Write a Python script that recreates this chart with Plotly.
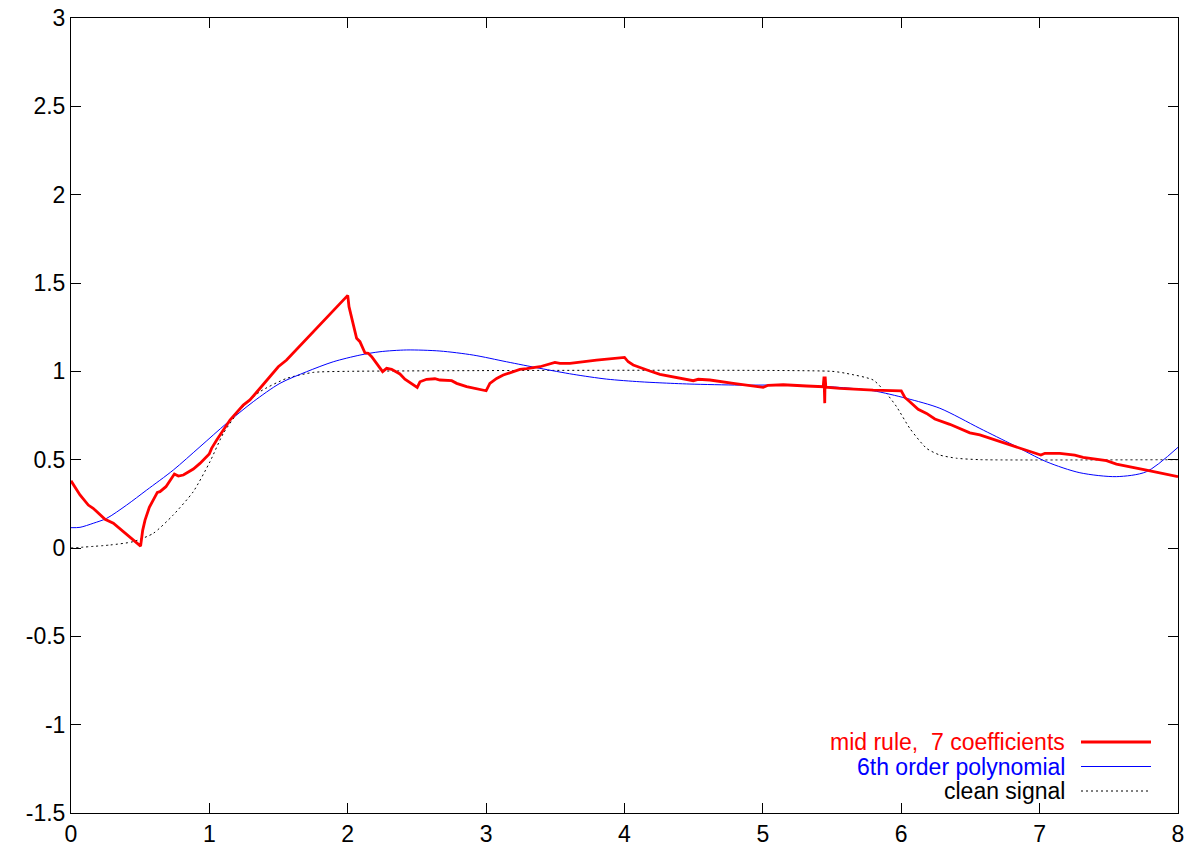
import plotly.graph_objects as go

# ---- data ----
red_x = [0.0, 0.065, 0.125, 0.16, 0.246, 0.306, 0.503, 0.518, 0.535, 0.566, 0.624, 0.643, 0.686,
         0.747, 0.776, 0.812, 0.884, 0.932, 0.999, 1.016, 1.053, 1.101, 1.149, 1.245, 1.293, 1.366,
         1.498, 1.558, 2.0, 2.009, 2.04, 2.064, 2.088, 2.124, 2.148, 2.173, 2.252, 2.281, 2.317,
         2.377, 2.413, 2.502, 2.522, 2.57, 2.63, 2.666, 2.751, 2.787, 2.859, 3.0, 3.027, 3.076,
         3.124, 3.172, 3.244, 3.293, 3.389, 3.497, 3.533, 3.606, 3.678, 3.798, 4.0, 4.027, 4.063,
         4.124, 4.183, 4.256, 4.328, 4.424, 4.497, 4.533, 4.617, 4.786, 4.93, 5.002, 5.038, 5.147,
         5.316, 5.436, 5.442, 5.447, 5.45, 5.455, 5.556, 5.797, 6.0, 6.026, 6.062, 6.122, 6.183,
         6.243, 6.351, 6.496, 6.568, 6.761, 6.881, 7.009, 7.038, 7.146, 7.254, 7.314, 7.483, 7.555,
         7.772, 8.0]
red_y = [0.38, 0.30, 0.243, 0.225, 0.162, 0.14, 0.011, 0.10, 0.158, 0.23, 0.315, 0.319, 0.347,
         0.419, 0.407, 0.413, 0.447, 0.479, 0.532, 0.564, 0.611, 0.668, 0.724, 0.809, 0.838, 0.904,
         1.026, 1.064, 1.43, 1.366, 1.262, 1.187, 1.168, 1.105, 1.102, 1.083, 0.998, 1.017, 1.011,
         0.985, 0.955, 0.909, 0.941, 0.955, 0.958, 0.951, 0.947, 0.932, 0.913, 0.89, 0.932, 0.96,
         0.979, 0.992, 1.011, 1.015, 1.026, 1.051, 1.045, 1.045, 1.053, 1.064, 1.079, 1.054, 1.036,
         1.017, 1.002, 0.983, 0.973, 0.96, 0.947, 0.955, 0.951, 0.932, 0.917, 0.909, 0.921, 0.924,
         0.917, 0.913, 0.97, 0.82, 0.97, 0.91, 0.904, 0.894, 0.89, 0.852, 0.828, 0.785, 0.762,
         0.730, 0.700, 0.652, 0.640, 0.592, 0.559, 0.526, 0.536, 0.536, 0.526, 0.513, 0.494, 0.475,
         0.441, 0.404]

blue_x = [0.0, 0.065, 0.161, 0.258, 0.402, 0.547, 0.739, 0.932, 1.125, 1.317, 1.51, 1.703, 1.895,
          2.088, 2.233, 2.426, 2.666, 2.907, 3.148, 3.389, 3.629, 3.871, 4.111, 4.256, 4.473,
          4.834, 5.195, 5.556, 5.797, 6.038, 6.279, 6.568, 6.809, 7.05, 7.291, 7.555, 7.772, 8.0]
blue_y = [0.115, 0.117, 0.14, 0.168, 0.243, 0.328, 0.441, 0.573, 0.706, 0.828, 0.932, 0.998, 1.054,
          1.092, 1.111, 1.121, 1.115, 1.092, 1.054, 1.017, 0.983, 0.956, 0.941, 0.935, 0.928,
          0.922, 0.922, 0.909, 0.890, 0.847, 0.791, 0.677, 0.583, 0.488, 0.426, 0.404, 0.432, 0.570]

clean_x = [0.0, 0.282, 0.45, 0.595, 0.739, 0.884, 1.004, 1.101, 1.221, 1.366, 1.558, 1.751, 2.0,
           5.5, 5.605, 5.797, 5.893, 5.966, 6.062, 6.183, 6.279, 6.4, 6.57, 8.0]
clean_y = [0.0, 0.017, 0.036, 0.083, 0.187, 0.319, 0.488, 0.649, 0.781, 0.885, 0.960, 0.994, 1.0,
           1.0, 0.988, 0.951, 0.875, 0.800, 0.677, 0.564, 0.526, 0.508, 0.5, 0.5]

legend_labels = ["mid rule,&nbsp; 7 coefficients", "6th order polynomial", "clean signal"]
legend_colors = ["#ff0000", "#0000ff", "#000000"]

x_ticks = [0, 1, 2, 3, 4, 5, 6, 7, 8]
y_ticks = [-1.5, -1, -0.5, 0, 0.5, 1, 1.5, 2, 2.5, 3]
y_tick_text = ["-1.5", "-1", "-0.5", "0", "0.5", "1", "1.5", "2", "2.5", "3"]

# ---- figure ----
W, H = 1189, 853
ML, MR, MT, MB = 71, 11, 18, 40
FONT = "Liberation Sans, Arial, Helvetica, sans-serif"
FS = 23
LFS = 23

fig = go.Figure()
fig.add_trace(go.Scatter(x=clean_x, y=clean_y, mode="lines",
                         line=dict(color="black", width=1, dash="2px,3px", shape="spline", smoothing=0.6),
                         showlegend=False, hoverinfo="skip"))
fig.add_trace(go.Scatter(x=blue_x, y=blue_y, mode="lines",
                         line=dict(color="#0000ff", width=1, shape="spline", smoothing=0.8),
                         showlegend=False))
fig.add_trace(go.Scatter(x=red_x, y=red_y, mode="lines", line=dict(color="#ff0000", width=2.8),
                         showlegend=False))

pw, ph = W - ML - MR, H - MT - MB
def px2paper_x(px):
    return (px - ML) / pw
def px2paper_y(py):
    return 1 - (py - MT) / ph

rows_y = [742, 766.5, 791]
widths = [2.8, 1, 1]
dashes = ["solid", "solid", "2px,3px"]
for lab, col, ry, lw, ds in zip(legend_labels, legend_colors, rows_y, widths, dashes):
    fig.add_annotation(x=px2paper_x(1066), y=px2paper_y(ry), xref="paper", yref="paper",
                       text=lab, showarrow=False, xanchor="right", yanchor="middle",
                       borderpad=0, font=dict(color=col, size=LFS, family=FONT))
    fig.add_shape(type="line", xref="paper", yref="paper",
                  x0=px2paper_x(1081), x1=px2paper_x(1151), y0=px2paper_y(ry), y1=px2paper_y(ry),
                  line=dict(color=col, width=lw, dash=ds))

axis_common = dict(showline=True, linecolor="black", linewidth=1, mirror="allticks",
                   ticks="inside", ticklen=10, tickcolor="black", tickwidth=1,
                   showgrid=False, zeroline=False, automargin=False,
                   tickfont=dict(size=FS, family=FONT, color="black"))
fig.update_xaxes(range=[0, 8], tickvals=x_ticks, ticktext=[str(v) for v in x_ticks], **axis_common)
fig.update_yaxes(range=[-1.5, 3], tickvals=y_ticks, ticktext=y_tick_text, **axis_common)

fig.update_layout(width=W, height=H, autosize=False, margin=dict(l=ML, r=MR, t=MT, b=MB, pad=0),
                  plot_bgcolor="white", paper_bgcolor="white", showlegend=False,
                  font=dict(family=FONT))
fig.write_html("out.html", config={"responsive": False, "displayModeBar": False},
               post_script="document.body.style.margin='0';document.body.style.overflow='hidden';")
